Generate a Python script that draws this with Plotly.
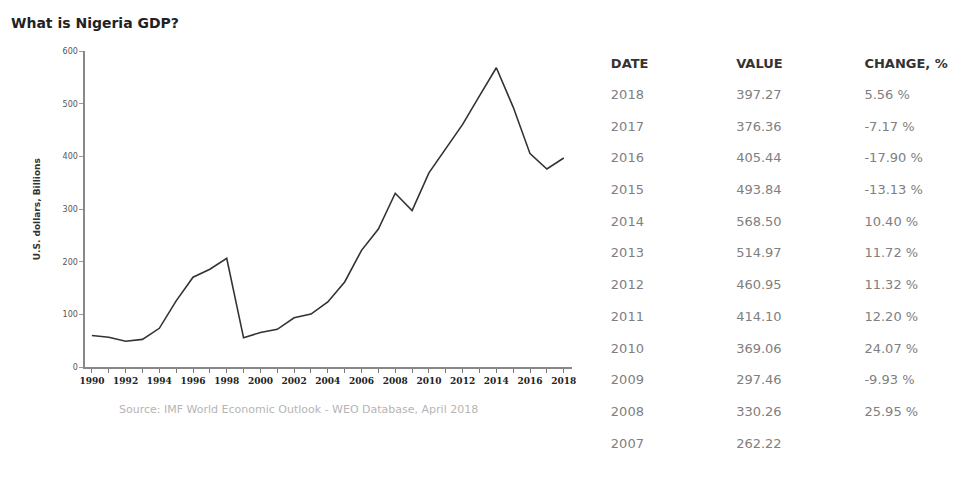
import plotly.graph_objects as go

years = list(range(1990, 2019))
gdp = [60.5, 57, 49.5, 53, 74, 126, 171, 186, 207, 56, 66, 72, 94, 101, 124, 162, 222,
       262.22, 330.26, 297.46, 369.06, 414.10, 460.95, 514.97, 568.50, 493.84, 405.44, 376.36, 397.27]

table_dates = ["2018", "2017", "2016", "2015", "2014", "2013", "2012", "2011", "2010", "2009", "2008", "2007"]
table_values = ["397.27", "376.36", "405.44", "493.84", "568.50", "514.97", "460.95", "414.10",
                "369.06", "297.46", "330.26", "262.22"]
table_changes = ["5.56 %", "-7.17 %", "-17.90 %", "-13.13 %", "10.40 %", "11.72 %", "11.32 %",
                 "12.20 %", "24.07 %", "-9.93 %", "25.95 %", ""]
table_headers = ["<b>DATE</b>", "<b>VALUE</b>", "<b>CHANGE, %</b>"]
x_tick_years = list(range(1990, 2019))
x_tick_text = [str(y) if y % 2 == 0 else "" for y in x_tick_years]

W, H = 979, 497
fig = go.Figure()
fig.add_trace(go.Scatter(x=years, y=gdp, mode="lines",
                         line=dict(color="#333333", width=1.6), showlegend=False,
                         xaxis="x", yaxis="y"))

fig.add_trace(go.Table(
    domain=dict(x=[603 / W, 1.0], y=[0.0, 1 - 45 / H]),
    columnwidth=[127, 130, 120],
    header=dict(values=table_headers, align="left", height=33,
                fill=dict(color="white"), line=dict(color="white", width=0),
                font=dict(family="DejaVu Sans, sans-serif", size=13, color="#333333")),
    cells=dict(values=[table_dates, table_values, table_changes], align="left", height=31.7,
               fill=dict(color="white"), line=dict(color="white", width=0),
               font=dict(family="DejaVu Sans, sans-serif", size=13, color="#808080")),
))

x0, x1 = 80, 572
fig.update_layout(
    width=W, height=H,
    margin=dict(l=0, r=0, t=0, b=0),
    paper_bgcolor="white", plot_bgcolor="white",
    xaxis=dict(domain=[x0 / W, x1 / W], range=[1989.6, 2018.5],
               tickmode="array", tickvals=x_tick_years, ticktext=x_tick_text,
               ticks="outside", ticklen=4, tickcolor="#777", tickwidth=1,
               showline=True, linecolor="#888", linewidth=1.5, showgrid=False, zeroline=False,
               tickfont=dict(family="DejaVu Serif, serif", size=9, color="#222", weight="bold")),
    yaxis=dict(domain=[1 - 370 / H, 1 - 48 / H], range=[0, 600],
               tickvals=[0, 100, 200, 300, 400, 500, 600],
               ticks="outside", ticklen=4, tickcolor="#999",
               showline=True, linecolor="#888", linewidth=1.5, showgrid=False, zeroline=False,
               tickfont=dict(family="DejaVu Sans, sans-serif", size=8, color="#555"),
               title=dict(text="<b>U.S. dollars, Billions</b>", standoff=20,
                          font=dict(family="DejaVu Sans, sans-serif", size=9, color="#333"))),
    annotations=[
        dict(text="<b>What is Nigeria GDP?</b>", xref="paper", yref="paper",
             x=3 / W, y=1 - 9 / H, xanchor="left", yanchor="top", showarrow=False,
             font=dict(family="DejaVu Sans, sans-serif", size=14, color="#222")),
        dict(text="Source: IMF World Economic Outlook - WEO Database, April 2018", xref="paper", yref="paper",
             x=112 / W, y=1 - 413 / H, xanchor="left", yanchor="middle", showarrow=False,
             font=dict(family="DejaVu Sans, sans-serif", size=11, color="#b5b5b5")),
    ],
)

fig.write_html("out.html")
